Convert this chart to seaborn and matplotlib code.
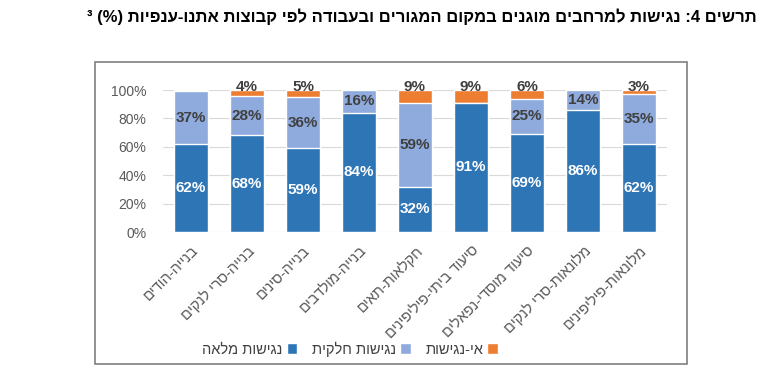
import re
import numpy as np
import pandas as pd
import matplotlib
matplotlib.use("Agg")
import matplotlib.pyplot as plt
from matplotlib.patches import Patch, Rectangle
from matplotlib.ticker import FuncFormatter
import seaborn as sns

# --- data ---
GROUPS = ["בנייה-הודים", "בנייה-סרי לנקים", "בנייה-סינים", "בנייה-מולדבים",
          "חקלאות-תאים", "סיעוד ביתי-פיליפינים", "סיעוד מוסדי-נפאלים",
          "מלונאות-סרי לנקים", "מלונאות-פיליפינים"]
FULL = [62, 68, 59, 84, 32, 91, 69, 86, 62]
PARTIAL = [37, 28, 36, 16, 59, 0, 25, 14, 35]
NONE = [1, 4, 5, 0, 9, 9, 6, 0, 3]
SERIES = ["נגישות מלאה", "נגישות חלקית", "אי-נגישות"]
TITLE = "תרשים 4: נגישות למרחבים מוגנים במקום המגורים ובעבודה לפי קבוצות אתנו-ענפיות (%) ³"

COLORS = ["#2E75B6", "#8FAADC", "#ED7D31"]


def rtl(s):
    """matplotlib has no bidi: reverse Hebrew text, keep digit runs, mirror brackets"""
    r = s[::-1]
    r = r.translate(str.maketrans("()", ")("))
    return re.sub(r"\d+", lambda m: m.group(0)[::-1], r)


sns.set_style("white")
plt.rcParams["font.family"] = ["Liberation Sans", "DejaVu Sans"]

df = pd.DataFrame({"group": [rtl(g) for g in GROUPS],
                   "full": FULL, "partial": PARTIAL, "none": NONE})
df["lvl1"] = df["full"]
df["lvl2"] = df["full"] + df["partial"]
df["lvl3"] = df["lvl2"] + df["none"]
order = list(df["group"])

fig = plt.figure(figsize=(7.68, 3.88), dpi=100)
ax = fig.add_axes([163 / 768, 1 - 232 / 388, 504 / 768, 142 / 388])

# stacked bars drawn back to front
for col, c in zip(["lvl3", "lvl2", "lvl1"], COLORS[::-1]):
    sns.barplot(data=df, x="group", y=col, order=order, color=c, width=0.6,
                saturation=1, ax=ax, zorder=3)

x = np.arange(len(df))
for i in x:
    f, p, n = FULL[i], PARTIAL[i], NONE[i]
    ax.text(i, f / 2, f"{f}%", ha="center", va="center", color="white",
            fontsize=11, fontweight="bold", zorder=5)
    if p > 0:
        ax.text(i, f + p / 2, f"{p}%", ha="center", va="center", color="#404040",
                fontsize=11, fontweight="bold", zorder=5)
    if n > 1:
        ax.text(i, 102, f"{n}%", ha="center", va="center", color="#404040",
                fontsize=11, fontweight="bold", zorder=5)

ax.set_ylim(0, 100)
ax.set_yticks(range(0, 101, 20))
ax.yaxis.set_major_formatter(FuncFormatter(lambda v, _: f"{v:.0f}%"))
ax.grid(axis="y", color="#d9d9d9", linewidth=0.8, zorder=0)
ax.set_xlabel("")
ax.set_ylabel("")
for s in ax.spines.values():
    s.set_visible(False)
ax.tick_params(axis="both", length=0, labelsize=10, labelcolor="#595959")
ax.tick_params(axis="y", pad=12)
ax.tick_params(axis="x", pad=8, labelsize=10.5)
ax.set_xticks(x)
ax.set_xticklabels(order, rotation=45, ha="right", rotation_mode="anchor")

handles = [Patch(facecolor=c, label=rtl(s)) for c, s in zip(COLORS, SERIES)]
fig.legend(handles=handles, loc="center", bbox_to_anchor=(350 / 768, 1 - 349 / 388),
           ncol=3, frameon=False, markerfirst=False, fontsize=10.5,
           handlelength=0.7, handleheight=0.7, columnspacing=1.0, handletextpad=0.3,
           labelcolor="#404040")

fig.patches.append(Rectangle((95 / 768, 1 - 364 / 388), 592 / 768, 302 / 388,
                             transform=fig.transFigure, fill=False,
                             edgecolor="#7f7f7f", linewidth=1.2))

fig.text(757 / 768, 1 - 17 / 388, rtl(TITLE), ha="right", va="center",
         fontsize=12, fontweight="bold", color="black")

fig.savefig("out.png", dpi=100)
